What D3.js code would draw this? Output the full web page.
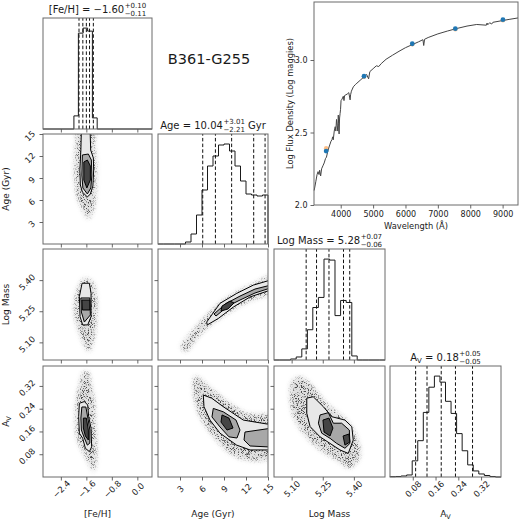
<!DOCTYPE html>
<html><head><meta charset="utf-8">
<script src="https://cdn.jsdelivr.net/npm/d3@7"></script>
<style>body{margin:0;background:#fff} text{font-family:"DejaVu Sans",sans-serif;fill:#1a1a1a}</style>
</head><body><script>
// ---------------- DATA ----------------
const fehRange=[-2.96,0.46], ageRange=[0,15], massRange=[5.015,5.55], avRange=[0,0.39];
const fehTicks=[-2.4,-1.6,-0.8,0.0], ageTicks=[3,6,9,12,15], massTicks=[5.10,5.25,5.40], avTicks=[0.08,0.16,0.24,0.32];

const fehEdges=[-1.99,-1.85,-1.70,-1.56,-1.41,-1.26];
const fehCounts=[0.13,0.95,1.0,0.97,0.11];
const ageEdges=[0,0.75,1.5,2.25,3,3.75,4.5,5.25,6,6.75,7.5,8.25,9,9.75,10.5,11.25,12,12.75,13.5,14.25,15];
const ageCounts=[0,0,0,0,0,0.02,0.10,0.29,0.54,0.78,0.88,0.99,1.0,0.93,0.78,0.63,0.50,0.49,0.48,0.49];
const massEdges=[5.015,5.042,5.068,5.095,5.122,5.149,5.176,5.202,5.229,5.256,5.283,5.309,5.336,5.363,5.390,5.416,5.443,5.470,5.497,5.523,5.55];
const massCounts=[0,0,0,0.01,0.03,0.11,0.30,0.52,0.62,1.0,0.99,0.44,0.59,0.57,0.04,0,0,0,0,0];
const avEdges=[0,0.0195,0.039,0.0585,0.078,0.0975,0.117,0.1365,0.156,0.1755,0.195,0.2145,0.234,0.2535,0.273,0.2925,0.312,0.3315,0.351,0.3705,0.39];
const avCounts=[0.003,0.005,0.01,0.02,0.16,0.36,0.64,0.89,1.0,0.94,0.75,0.63,0.43,0.26,0.12,0.06,0.03,0.015,0.005,0];

const fehQ=[-1.83,-1.71,-1.60,-1.50,-1.38];
const ageQ=[6.1,7.83,10.04,13.05,14.6];
const massQ=[5.17,5.22,5.28,5.35,5.38];
const avQ=[0.09,0.13,0.18,0.23,0.29];

// 2D panels: scatter cloud extents and contour levels (data coords)
const cloudFA=[[-1.85,15.6],[-1.945,12.82],[-1.976,10.36],[-1.945,8.05],[-1.882,6.27],[-1.756,5.05],[-1.63,3.82],[-1.537,3.41],[-1.41,4.23],[-1.317,6.0],[-1.286,8.73],[-1.286,11.45],[-1.348,13.5],[-1.348,15.6]];
const c1FA=[[-1.756,15.6],[-1.772,12.82],[-1.803,10.09],[-1.788,8.05],[-1.725,7.09],[-1.568,6.41],[-1.474,6.82],[-1.395,7.91],[-1.37,10.09],[-1.38,11.73],[-1.464,12.82],[-1.483,15.6]];
const c2FA=[[-1.725,12.14],[-1.741,9.41],[-1.709,7.64],[-1.568,6.82],[-1.458,7.64],[-1.427,9.41],[-1.442,11.45],[-1.537,12.27]];
const c3FA=[[-1.678,11.18],[-1.678,8.73],[-1.584,7.64],[-1.474,8.73],[-1.474,10.64],[-1.568,11.45]];

const cloudFM=[[-1.662,5.409],[-1.923,5.336],[-1.976,5.24],[-1.819,5.144],[-1.608,5.071],[-1.505,5.055],[-1.348,5.127],[-1.276,5.224],[-1.295,5.336],[-1.401,5.392]];
const c1FM=[[-1.734,5.385],[-1.505,5.385],[-1.452,5.336],[-1.452,5.224],[-1.558,5.184],[-1.715,5.184],[-1.797,5.224],[-1.819,5.32]];
const c2FM=[[-1.772,5.314],[-1.49,5.314],[-1.474,5.232],[-1.662,5.198],[-1.756,5.246]];
const c3FM=[[-1.741,5.304],[-1.49,5.304],[-1.49,5.256],[-1.725,5.256]];

const cloudAM=[[3.14,5.078],[4.36,5.140],[5.73,5.198],[7.36,5.256],[9.14,5.309],[11.18,5.352],[13.23,5.386],[15.6,5.425],[15.6,5.340],[13.23,5.309],[11.18,5.275],[9.14,5.232],[7.36,5.189],[5.73,5.135],[4.64,5.087],[3.82,5.054]];
const c1AM=[[6.64,5.198],[8.45,5.288],[10.73,5.336],[13.0,5.376],[15.6,5.403],[15.6,5.355],[12.55,5.319],[10.27,5.270],[8.22,5.215],[6.72,5.184]];
const c2AM=[[7.64,5.237],[9.27,5.287],[11.18,5.323],[13.23,5.357],[15.6,5.378],[15.6,5.365],[13.23,5.338],[11.18,5.304],[9.55,5.275],[7.91,5.227]];
const c3AM=[[8.73,5.275],[9.82,5.299],[10.36,5.290],[9.55,5.261],[8.59,5.251]];

const cloudFV=[[-1.694,0.369],[-1.819,0.323],[-1.913,0.271],[-1.945,0.200],[-1.882,0.130],[-1.662,0.077],[-1.505,0.042],[-1.380,0.018],[-1.286,0.053],[-1.286,0.130],[-1.317,0.200],[-1.348,0.271],[-1.442,0.323],[-1.537,0.369]];
const c1FV=[[-1.819,0.259],[-1.662,0.265],[-1.558,0.253],[-1.527,0.212],[-1.452,0.171],[-1.433,0.106],[-1.505,0.089],[-1.63,0.101],[-1.715,0.136],[-1.819,0.154],[-1.841,0.212]];
const c2FV=[[-1.741,0.246],[-1.615,0.246],[-1.552,0.207],[-1.49,0.165],[-1.49,0.119],[-1.568,0.112],[-1.662,0.137],[-1.756,0.165],[-1.772,0.207]];
const c3FV=[[-1.694,0.207],[-1.6,0.207],[-1.537,0.165],[-1.537,0.130],[-1.63,0.144],[-1.694,0.172]];

const cloudAV=[[5.05,0.355],[7.54,0.306],[9.82,0.259],[12.1,0.224],[15.6,0.211],[15.6,0.070],[12.1,0.060],[9.82,0.083],[7.54,0.142],[5.96,0.200],[5.05,0.259],[4.81,0.329]];
const c1AV=[[6.18,0.288],[7.32,0.277],[8.9,0.247],[11.63,0.200],[15.6,0.183],[15.6,0.095],[12.55,0.095],[10.73,0.112],[8.45,0.154],[7.09,0.200],[6.27,0.247]];
const c2AV=[[7.54,0.241],[8.9,0.229],[10.64,0.2],[11.18,0.165],[10.77,0.137],[9.68,0.141],[8.45,0.176],[7.36,0.211]];
const c2bAV=[[11.86,0.158],[15.6,0.172],[15.6,0.105],[12.55,0.109],[11.73,0.130]];
const c3AV=[[8.73,0.218],[9.68,0.207],[10.23,0.172],[9.41,0.165],[8.59,0.193]];

const cloudMV=[[5.140,0.352],[5.189,0.329],[5.269,0.259],[5.365,0.200],[5.414,0.142],[5.429,0.071],[5.381,0.031],[5.317,0.060],[5.237,0.095],[5.156,0.154],[5.108,0.212],[5.092,0.282],[5.100,0.335]];
const c1MV=[[5.173,0.277],[5.204,0.282],[5.253,0.247],[5.293,0.212],[5.357,0.200],[5.39,0.177],[5.397,0.130],[5.373,0.083],[5.333,0.095],[5.285,0.118],[5.237,0.141],[5.189,0.177],[5.173,0.224]];
const c2MV=[[5.237,0.218],[5.277,0.226],[5.301,0.189],[5.341,0.189],[5.378,0.165],[5.381,0.118],[5.357,0.101],[5.317,0.118],[5.285,0.136],[5.245,0.154],[5.229,0.189]];
const c3MV=[[5.251,0.2],[5.28,0.207],[5.299,0.172],[5.285,0.144],[5.256,0.158]];
const c3bMV=[[5.348,0.144],[5.376,0.151],[5.381,0.123],[5.357,0.112]];

// SED
const specWave=[3180,3230,3270,3300,3330,3350,3380,3410,3450,3490,3530,3560,3600,3640,3670,3700,3730,3750,3770,3800,3830,3850,3870,3890,3910,3925,3935,3950,3965,3980,3995,4010,4040,4080,4101,4120,4160,4200,4250,4290,4305,4330,4390,4450,4500,4600,4700,4800,4861,4900,5000,5100,5175,5250,5400,5600,5800,6000,6200,6400,6540,6563,6590,6700,7000,7300,7600,7900,8200,8498,8520,8542,8600,8662,8700,9000,9200,9475];
const specFlux=[2.10,2.16,2.21,2.23,2.21,2.24,2.20,2.25,2.27,2.29,2.32,2.33,2.37,2.40,2.42,2.44,2.45,2.47,2.45,2.51,2.54,2.51,2.59,2.55,2.51,2.62,2.56,2.49,2.60,2.63,2.66,2.72,2.73,2.75,2.72,2.755,2.76,2.765,2.775,2.725,2.76,2.785,2.815,2.83,2.84,2.86,2.88,2.90,2.87,2.92,2.94,2.96,2.955,2.975,3.005,3.033,3.06,3.085,3.105,3.125,3.14,3.10,3.143,3.155,3.18,3.20,3.218,3.234,3.245,3.24,3.255,3.243,3.257,3.248,3.26,3.272,3.28,3.29];
const photWave=[3550,4720,6210,7540,9010];
const photObs=[2.372,2.888,3.112,3.216,3.278];
const photModel=[2.392,2.885,3.108,3.212,3.274];
const sedXTicks=[4000,5000,6000,7000,8000,9000], sedYTicks=[2.0,2.5,3.0];
const sedXRange=[3175,9475], sedYRange=[2.0,3.4];

// ---------------- LAYOUT ----------------
const cols=[[43,152],[158,268],[274,385],[390,501]];
const rows=[[18,129],[134,244],[249,360],[366,477]];
const ranges=[fehRange,ageRange,massRange,avRange];
const ticks=[fehTicks,ageTicks,massTicks,avTicks];
const fmts=[d3.format(".1f"),d3.format("d"),d3.format(".2f"),d3.format(".2f")];
const hists=[[fehEdges,fehCounts],[ageEdges,ageCounts],[massEdges,massCounts],[avEdges,avCounts]];
const quants=[fehQ,ageQ,massQ,avQ];
const xs=ranges.map((r,i)=>d3.scaleLinear().domain(r).range(cols[i]));
const ys=ranges.map((r,i)=>d3.scaleLinear().domain(r).range([rows[i][1],rows[i][0]]));

const panels2d=[
 {i:0,j:1,cloud:cloudFA,levels:[[c1FA],[c2FA],[c3FA]]},
 {i:0,j:2,cloud:cloudFM,levels:[[c1FM],[c2FM],[c3FM]]},
 {i:1,j:2,cloud:cloudAM,levels:[[c1AM],[c2AM],[c3AM]]},
 {i:0,j:3,cloud:cloudFV,levels:[[c1FV],[c2FV],[c3FV]]},
 {i:1,j:3,cloud:cloudAV,levels:[[c1AV],[c2AV,c2bAV],[c3AV]]},
 {i:2,j:3,cloud:cloudMV,levels:[[c1MV],[c2MV],[c3MV,c3bMV]]}
];
const levelFill=["#e8e8e8","#a8a8a8","#454545"];
const FRAME="#6a6a6a";

const svg=d3.select("body").append("svg").attr("width",520).attr("height",520).style("display","block");
const defs=svg.append("defs");
const haze=defs.append("filter").attr("id","haze").attr("x","-50%").attr("y","-50%").attr("width","200%").attr("height","200%");
haze.append("feGaussianBlur").attr("stdDeviation",2.5);
const grain=defs.append("filter").attr("id","grain").attr("filterUnits","userSpaceOnUse")
  .attr("x",0).attr("y",0).attr("width",520).attr("height",520).attr("color-interpolation-filters","sRGB");
grain.append("feTurbulence").attr("type","fractalNoise").attr("baseFrequency",1.3).attr("numOctaves",1).attr("seed",4).attr("result","noise");
grain.append("feColorMatrix").attr("in","noise").attr("type","matrix")
  .attr("values","0 0 0 0 0.3  0 0 0 0 0.3  0 0 0 0 0.3  7 0 0 0 -3.6").attr("result","dots");
grain.append("feGaussianBlur").attr("in","SourceAlpha").attr("stdDeviation",2.2).attr("result","soft0");
const ct=grain.append("feComponentTransfer").attr("in","soft0").attr("result","soft");
ct.append("feFuncA").attr("type","gamma").attr("amplitude",1).attr("exponent",1.6).attr("offset",0);
grain.append("feComposite").attr("in","dots").attr("in2","soft").attr("operator","in");

function frame(g,x0,x1,y0,y1){
  g.append("rect").attr("x",x0).attr("y",y0).attr("width",x1-x0).attr("height",y1-y0)
   .attr("fill","none").attr("stroke",FRAME).attr("stroke-width",1);
}
function styleAxis(a){
  a.attr("font-family","DejaVu Sans, sans-serif").attr("font-size",8.5);
  a.select(".domain").remove();
  a.selectAll(".tick line").attr("stroke","#555").attr("stroke-width",0.9);
  a.selectAll(".tick text").attr("fill","#222");
}
function bottomAxis(i,j,labels){
  const a=svg.append("g").attr("transform",`translate(0,${rows[j][1]})`)
    .call(d3.axisBottom(xs[i]).tickValues(ticks[i]).tickSize(3.5).tickFormat(labels?fmts[i]:""));
  styleAxis(a);
  if(labels){
    a.selectAll(".tick text").attr("y",null).attr("dy",null).attr("text-anchor","middle")
     .attr("dominant-baseline","central").attr("transform","translate(0,12) rotate(-45)");
  }
}
function leftAxis(i,j,labels){
  const a=svg.append("g").attr("transform",`translate(${cols[i][0]},0)`)
    .call(d3.axisLeft(ys[j]).tickValues(ticks[j]).tickSize(3.5).tickFormat(labels?fmts[j]:""));
  styleAxis(a);
  if(labels){
    a.selectAll(".tick text").attr("x",null).attr("dy",null).attr("text-anchor","middle")
     .attr("dominant-baseline","central").each(function(){
       const L=this.getComputedTextLength(); const bw=(L+6.5)/Math.SQRT2;
       d3.select(this).attr("transform",`translate(${-(7+bw/2)},1.5) rotate(-45)`);
     });
  }
}

// ----- diagonal histograms -----
hists.forEach(([edges,counts],k)=>{
  const g=svg.append("g");
  const hy=d3.scaleLinear().domain([0,1.1*d3.max(counts)]).range([rows[k][1],rows[k][0]]);
  const pts=[[ranges[k][0],0],[edges[0],0]];
  counts.forEach((c,b)=>{pts.push([edges[b],c]);pts.push([edges[b+1],c]);});
  pts.push([edges[edges.length-1],0]); pts.push([ranges[k][1],0]);
  g.append("path").attr("d",d3.line().x(d=>xs[k](d[0])).y(d=>hy(d[1]))(pts))
    .attr("fill","none").attr("stroke","#1a1a1a").attr("stroke-width",1);
  g.selectAll("line.q").data(quants[k]).join("line").attr("class","q")
    .attr("x1",d=>xs[k](d)).attr("x2",d=>xs[k](d)).attr("y1",rows[k][1]).attr("y2",rows[k][0])
    .attr("stroke","#111").attr("stroke-width",1).attr("stroke-dasharray","3.5,2.2");
  frame(g,cols[k][0],cols[k][1],rows[k][0],rows[k][1]);
  bottomAxis(k,k,k===3);
});

// ----- 2D panels -----
panels2d.forEach((p,n)=>{
  const {i,j}=p;
  const cid="clip"+n;
  defs.append("clipPath").attr("id",cid).append("rect")
    .attr("x",cols[i][0]).attr("y",rows[j][0]).attr("width",cols[i][1]-cols[i][0]).attr("height",rows[j][1]-rows[j][0]);
  const g=svg.append("g").attr("clip-path",`url(#${cid})`);
  const smooth=d3.line().x(d=>xs[i](d[0])).y(d=>ys[j](d[1])).curve(d3.curveCatmullRomClosed);
  const poly=d3.line().x(d=>xs[i](d[0])).y(d=>ys[j](d[1])).curve(d3.curveLinearClosed);
  g.append("path").attr("d",smooth(p.cloud)).attr("fill","#9a9a9a").attr("opacity",0.3).attr("filter","url(#haze)");
  g.append("path").attr("d",smooth(p.cloud)).attr("fill","#000").attr("filter","url(#grain)");
  p.levels.forEach((polys,l)=>{
    polys.forEach(pl=>{
      g.append("path").attr("d",poly(pl)).attr("fill",levelFill[l])
       .attr("stroke","#000").attr("stroke-width",1).attr("stroke-linejoin","round");
    });
  });
  frame(svg.append("g"),cols[i][0],cols[i][1],rows[j][0],rows[j][1]);
  bottomAxis(i,j,j===3);
  leftAxis(i,j,i===0);
});

// ----- titles -----
function mathTitle(k,mainParts,sup,sub,suffix){
  const cx=(cols[k][0]+cols[k][1])/2, by=rows[k][0]-5;
  const g=svg.append("g");
  const t=g.append("text").attr("y",by).attr("font-size",10);
  mainParts.forEach(p=>t.append("tspan").text(p.t).attr("font-size",p.s||10).attr("dy",p.dy||0));
  const wm=t.node().getComputedTextLength();
  const ts=g.append("text").attr("y",by-4.6).attr("font-size",7).text(sup);
  const tb=g.append("text").attr("y",by+2.6).attr("font-size",7).text(sub);
  const wsc=Math.max(ts.node().getComputedTextLength(),tb.node().getComputedTextLength())+0.5;
  let wt=wm+wsc, tf=null, gap=0;
  if(suffix){gap=3.2;tf=g.append("text").attr("y",by).attr("font-size",10).text(suffix);wt+=gap+tf.node().getComputedTextLength();}
  const x0=cx-wt/2;
  t.attr("x",x0); ts.attr("x",x0+wm+0.5); tb.attr("x",x0+wm+0.5); if(tf) tf.attr("x",x0+wm+wsc+gap);
}
mathTitle(0,[{t:"[Fe/H] = −1.60"}],"+0.10","−0.11","");
mathTitle(1,[{t:"Age = 10.04"}],"+3.01","−2.21","Gyr");
mathTitle(2,[{t:"Log Mass = 5.28"}],"+0.07","−0.06","");
mathTitle(3,[{t:"A"},{t:"V",s:7,dy:2},{t:" = 0.18",dy:-2}],"+0.05","−0.05","");

// ----- axis labels -----
const labelNames=["[Fe/H]","Age (Gyr)","Log Mass",null];
[0,1,2,3].forEach(k=>{
  const cx=(cols[k][0]+cols[k][1])/2;
  const t=svg.append("text").attr("x",cx).attr("y",516.5).attr("text-anchor","middle").attr("font-size",9);
  if(labelNames[k]) t.text(labelNames[k]); else {t.append("tspan").text("A");t.append("tspan").text("V").attr("font-size",6.5).attr("dy",2);}
});
[1,2,3].forEach(k=>{
  const cy=(rows[k][0]+rows[k][1])/2;
  const t=svg.append("text").attr("transform",`translate(9,${cy}) rotate(-90)`).attr("text-anchor","middle").attr("font-size",9);
  if(labelNames[k]) t.text(labelNames[k]); else {t.append("tspan").text("A");t.append("tspan").text("V").attr("font-size",6.5).attr("dy",2);}
});

svg.append("text").attr("x",209).attr("y",64).attr("text-anchor","middle").attr("font-size",14.5).text("B361-G255");

// ----- SED panel -----
const sx=d3.scaleLinear().domain(sedXRange).range([314,518]);
const sy=d3.scaleLinear().domain(sedYRange).range([205,2]);
const sg=svg.append("g");
sg.append("path").attr("d",d3.line().x((d,k)=>sx(specWave[k])).y(d=>sy(d))(specFlux))
  .attr("fill","none").attr("stroke","#444").attr("stroke-width",1);
sg.selectAll("circle.m").data(photModel).join("circle").attr("class","m")
  .attr("cx",(d,k)=>sx(photWave[k])).attr("cy",d=>sy(d)).attr("r",2.2).attr("fill","#ff7f0e").attr("opacity",0.5);
sg.selectAll("circle.o").data(photObs).join("circle").attr("class","o")
  .attr("cx",(d,k)=>sx(photWave[k])).attr("cy",d=>sy(d)).attr("r",2.4).attr("fill","#1f77b4");
frame(sg,314,518,2,205);
const sax=svg.append("g").attr("transform","translate(0,205)")
  .call(d3.axisBottom(sx).tickValues(sedXTicks).tickSize(3.5).tickFormat(d3.format("d")));
styleAxis(sax); sax.attr("font-size",8);
const say=svg.append("g").attr("transform","translate(314,0)")
  .call(d3.axisLeft(sy).tickValues(sedYTicks).tickSize(3.5).tickFormat(d3.format(".1f")));
styleAxis(say); say.attr("font-size",8);
svg.append("text").attr("x",416).attr("y",229).attr("text-anchor","middle").attr("font-size",8.3).text("Wavelength (Å)");
svg.append("text").attr("transform","translate(293,103.5) rotate(-90)").attr("text-anchor","middle").attr("font-size",8.3).text("Log Flux Density (Log maggies)");
</script></body></html>
